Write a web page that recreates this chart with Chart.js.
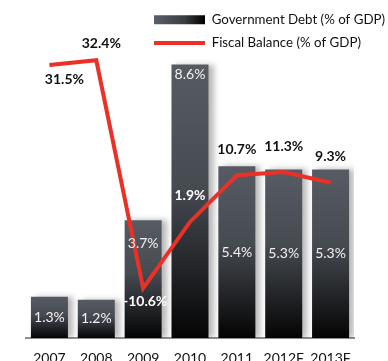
<!DOCTYPE html>
<html>
<head>
<meta charset="utf-8">
<script src="https://cdn.jsdelivr.net/npm/chart.js@4.4.1/dist/chart.umd.min.js"></script>
<style>
    html, body { margin: 0; padding: 0; background: #fff; }
    #wrap { position: relative; width: 388px; height: 361px; }
</style>
</head>
<body>
<div id="wrap"><canvas id="debtChart"></canvas></div>
<script>
// Dữ liệu theo năm (F = dự báo)
const years = ['2007', '2008', '2009', '2010', '2011', '2012F', '2013F'];
const govDebt = [1.3, 1.2, 3.7, 8.6, 5.4, 5.3, 5.3]; // cột
const fiscalBalance = [31.5, 32.4, -10.6, 1.9, 10.7, 11.3, 9.3]; // đường
const seriesNames = ['Government Debt (% of GDP)', 'Fiscal Balance (% of GDP)'];

const RED = '#ec3026';

// Vị trí nhãn riêng cho vài điểm (còn lại: giữa cột / phía trên điểm)
const barLabelInset = { 2: 23, 3: 10 };
const balanceLabelPlacement = {
    0: { dx: 15, dy: 14 },
    1: { dx: 5, dy: -17 },
    2: { dx: 2, dy: 13, color: '#fff' },
    3: { dx: 0, dy: -26, color: '#fff' }
};

const fmt = v => v.toFixed(1) + '%';

// Gradient xám -> đen cho từng cột
function barGradient(context) {
    const chart = context.chart;
    const y = chart.scales.y;
    if (!chart.chartArea || !y || context.dataIndex === undefined) return '#3a3d42';
    const top = y.getPixelForValue(govDebt[context.dataIndex]);
    const bottom = y.getPixelForValue(0);
    const g = chart.ctx.createLinearGradient(0, top, 0, bottom);
    g.addColorStop(0, '#575c64');
    g.addColorStop(0.45, '#464a51');
    g.addColorStop(1, '#040404');
    return g;
}

// Bóng đổ bên phải các cột
const barShadow = {
    id: 'barShadow',
    beforeDatasetDraw(chart, args) {
        if (args.index !== 0) return;
        const ctx = chart.ctx;
        ctx.save();
        ctx.shadowColor = 'rgba(0, 0, 0, 0.28)';
        ctx.shadowBlur = 6;
        ctx.shadowOffsetX = 5;
        ctx.shadowOffsetY = 0;
    },
    afterDatasetDraw(chart, args) {
        if (args.index === 0) chart.ctx.restore();
    }
};

// Đặt legend ở góc trên bên phải, đè lên vùng biểu đồ
const legendPlacement = {
    id: 'legendPlacement',
    afterLayout(chart) {
        const lg = chart.legend;
        const w = lg.width, h = lg.height;
        lg.left = 144;
        lg.top = 3;
        lg.right = lg.left + w + 20;
        lg.bottom = lg.top + h;
    }
};

// Nhãn giá trị
const valueLabels = {
    id: 'valueLabels',
    afterDatasetsDraw(chart) {
        const ctx = chart.ctx;
        ctx.save();
        ctx.textAlign = 'center';
        ctx.textBaseline = 'middle';

        ctx.font = '14px Lato';
        ctx.fillStyle = '#f2f2f2';
        chart.getDatasetMeta(0).data.forEach((bar, i) => {
            const inset = barLabelInset[i];
            const y = inset !== undefined ? bar.y + inset : (bar.y + bar.base) / 2;
            ctx.fillText(fmt(govDebt[i]), bar.x, y);
        });

        ctx.font = 'bold 14px Lato';
        chart.getDatasetMeta(1).data.forEach((pt, i) => {
            const p = balanceLabelPlacement[i] || { dx: 0, dy: -26 };
            ctx.fillStyle = p.color || '#111';
            ctx.fillText(fmt(fiscalBalance[i]), pt.x + p.dx, pt.y + p.dy);
        });
        ctx.restore();
    }
};

Chart.defaults.font.family = 'Lato';

const config = {
    type: 'bar',
    data: {
        labels: years,
        datasets: [{
            label: seriesNames[0],
            data: govDebt,
            backgroundColor: barGradient,
            borderWidth: 0,
            categoryPercentage: 1,
            barPercentage: 0.79,
            yAxisID: 'y',
            order: 2
        }, {
            type: 'line',
            label: seriesNames[1],
            data: fiscalBalance,
            borderColor: RED,
            borderWidth: 4,
            pointRadius: 0,
            tension: 0,
            fill: false,
            yAxisID: 'y1',
            order: 1
        }]
    },
    options: {
        responsive: true,
        maintainAspectRatio: false,
        animation: false,
        layout: { padding: { top: 20, left: 26, right: 34, bottom: 0 } },
        plugins: {
            tooltip: { enabled: false },
            legend: {
                position: 'chartArea',
                align: 'start',
                labels: {
                    usePointStyle: true,
                    pointStyleWidth: 51,
                    boxHeight: 9,
                    padding: 10,
                    textAlign: 'left',
                    color: '#111',
                    font: { size: 13.3 },
                    generateLabels(chart) {
                        const g = chart.ctx.createLinearGradient(154, 0, 205, 0);
                        g.addColorStop(0, '#5a5f67');
                        g.addColorStop(0.6, '#3a3d42');
                        g.addColorStop(1, '#000');
                        return [
                            { text: seriesNames[0], datasetIndex: 0, fillStyle: g, strokeStyle: g, lineWidth: 0, pointStyle: 'rect', fontColor: '#111', hidden: false },
                            { text: seriesNames[1], datasetIndex: 1, fillStyle: RED, strokeStyle: RED, lineWidth: 4, pointStyle: 'line', fontColor: '#111', hidden: false }
                        ];
                    }
                }
            }
        },
        scales: {
            x: {
                grid: { display: false, drawTicks: false },
                border: { display: true, color: '#8e8e8e', width: 2 },
                ticks: { color: '#111', font: { size: 14 }, padding: 12 },
                afterFit(scale) { scale.height = 23; }
            },
            y: { display: false, min: 0, max: 10 },
            y1: { display: false, min: -20, max: 40 }
        }
    },
    plugins: [barShadow, legendPlacement, valueLabels]
};

window.onload = function () {
    const ctx = document.getElementById('debtChart').getContext('2d');
    new Chart(ctx, config);
};
</script>
</body>
</html>
